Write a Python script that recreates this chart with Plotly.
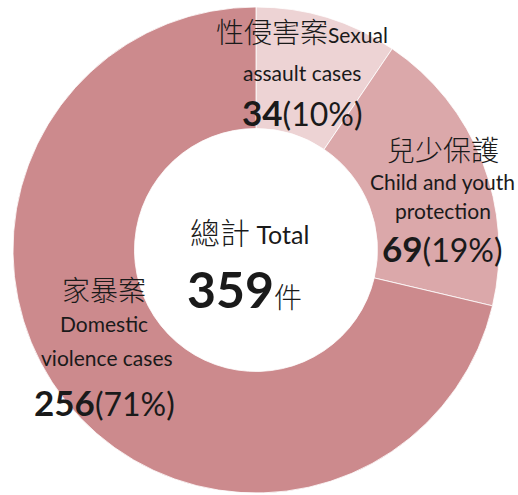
import plotly.graph_objects as go

# ---- data ----
categories_zh = ["性侵害案", "兒少保護", "家暴案"]
categories_en = ["Sexual assault cases", "Child and youth protection", "Domestic violence cases"]
values = [34, 69, 256]
percents = ["10%", "19%", "71%"]
total_zh = "總計"
total_en = "Total"
total_value = 359
unit = "件"

colors = ["#EDD3D4", "#DBA8AA", "#CC8A8D"]

W, H = 518, 495

CX, CY, R = 256, 250, 243

fig = go.Figure(go.Pie(
    labels=categories_en,
    values=values,
    hole=0.5,
    sort=False,
    direction="clockwise",
    rotation=0,
    marker=dict(colors=colors, line=dict(color="white", width=0.8)),
    textinfo="none",
    hoverinfo="label+value+percent",
    showlegend=False,
    domain=dict(x=[max(0, (CX - R)) / W, min(W, CX + R) / W],
                y=[max(0, 1 - (CY + R) / H), min(1, 1 - (CY - R) / H)]),
))

CJK = "Noto Sans CJK TC"
LAT = "Lato"


def ann(x, y, text, size, family=LAT):
    fig.add_annotation(x=x / W, y=1 - y / H, xref="paper", yref="paper", text=text,
                       showarrow=False, xanchor="center", yanchor="middle",
                       font=dict(family=family, size=size, color="#1a1a1a"))


def zh(s, size=28):
    return f"<span style='font-family:{CJK};font-size:{size}px;font-weight:300'>{s}</span>"


def num(v, p, size=35):
    return f"<b style='font-size:{size}px'>{v}</b><span style='font-size:{size - 3}px'>({p})</span>"


EN = 21

# sexual assault
sa_en = categories_en[0].split(" ", 1)
ann(302, 31, zh(categories_zh[0]) + f"<span style='font-size:{EN}px'>{sa_en[0]}</span>", EN)
ann(302, 72, sa_en[1], EN)
ann(302, 112, num(values[0], percents[0]), 35)

# child and youth
cy_en = categories_en[1].rsplit(" ", 1)
ann(443, 149, zh(categories_zh[1]), 28)
ann(442, 182, cy_en[0], EN)
ann(443, 210, cy_en[1], EN)
ann(442, 248, num(values[1], percents[1]), 35)

# domestic violence
dv_en = categories_en[2].split(" ", 1)
ann(104, 289, zh(categories_zh[2]), 28)
ann(104, 323, dv_en[0], EN)
ann(107, 357, dv_en[1], EN)
ann(104, 402, num(values[2], percents[2]), 35)

# center total
ann(249, 231, zh(total_zh, 30) + f"<span style='font-size:25px'> {total_en}</span>", 25)
ann(244, 289, f"<b style='font-size:50px'>{total_value}</b>" + zh(unit, 28), 50)

fig.update_layout(
    width=W, height=H,
    margin=dict(l=0, r=0, t=0, b=0),
    paper_bgcolor="white",
    plot_bgcolor="white",
)

fig.write_html("out.html",
               config={"displayModeBar": False},
               post_script="document.body.style.margin='0';document.body.style.overflow='hidden';")
